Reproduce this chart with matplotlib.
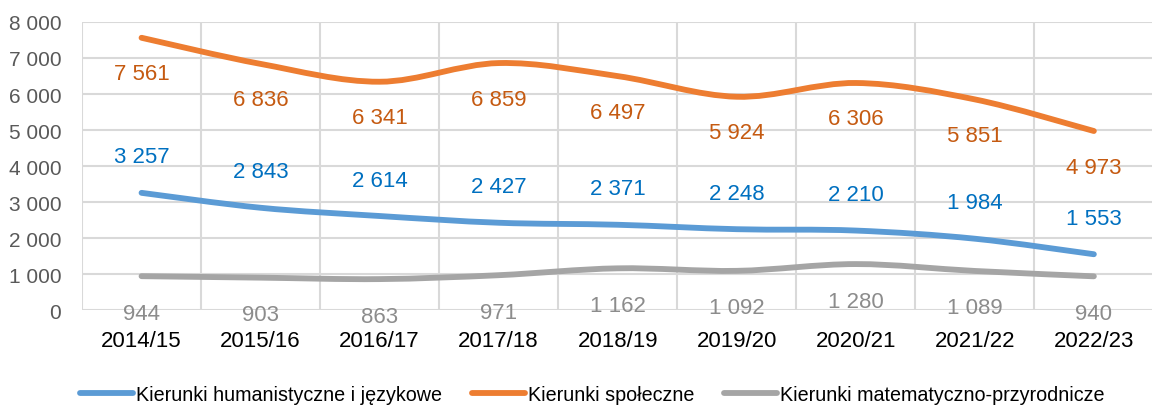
import numpy as np
import matplotlib
matplotlib.use('Agg')
import matplotlib.pyplot as plt
from matplotlib.path import Path
from matplotlib.patches import PathPatch
from matplotlib.lines import Line2D

plt.rcParams['font.family'] = ['Liberation Sans', 'DejaVu Sans']

years = ['2014/15', '2015/16', '2016/17', '2017/18', '2018/19',
         '2019/20', '2020/21', '2021/22', '2022/23']
humanist = [3257, 2843, 2614, 2427, 2371, 2248, 2210, 1984, 1553]
social = [7561, 6836, 6341, 6859, 6497, 5924, 6306, 5851, 4973]
science = [944, 903, 863, 971, 1162, 1092, 1280, 1089, 940]

series_names = ['Kierunki humanistyczne i językowe', 'Kierunki społeczne',
                'Kierunki matematyczno-przyrodnicze']
line_colors = ['#5B9BD5', '#ED7D31', '#A5A5A5']
label_colors = ['#0070C0', '#C55A11', '#8C8C8C']
label_offsets = [36, -36, -37]  # pixels, above / below the point


def fmt(v):
    return f"{v:,}".replace(',', ' ')


def smooth_path(x, y, t=1/6):
    # Excel-like smoothed line: Bezier segments through the data points
    verts = [(x[0], y[0])]
    codes = [Path.MOVETO]
    n = len(x)
    for i in range(n - 1):
        x0, y0 = (x[i - 1], y[i - 1]) if i > 0 else (x[i], y[i])
        x3, y3 = (x[i + 2], y[i + 2]) if i + 2 < n else (x[i + 1], y[i + 1])
        c1 = (x[i] + (x[i + 1] - x0) * t, y[i] + (y[i + 1] - y0) * t)
        c2 = (x[i + 1] - (x3 - x[i]) * t, y[i + 1] - (y3 - y[i]) * t)
        verts += [c1, c2, (x[i + 1], y[i + 1])]
        codes += [Path.CURVE4] * 3
    return Path(verts, codes)


fig = plt.figure(figsize=(11.52, 4.10), dpi=100)
ax = fig.add_axes([0.0712, 0.241, 0.93, 0.703])

xs = np.arange(len(years))
for vals, lc, tc, off in zip([humanist, social, science], line_colors, label_colors, label_offsets):
    patch = PathPatch(smooth_path(xs, vals), facecolor='none', edgecolor=lc,
                      lw=4.2, capstyle='round', joinstyle='round', zorder=3)
    ax.add_patch(patch)
    for xi, v in zip(xs, vals):
        ax.annotate(fmt(v), (xi, v), xytext=(0, off), textcoords='offset pixels',
                    ha='center', va='center', fontsize=16, color=tc, zorder=4)

ax.set_xlim(-0.5, len(years) - 0.5)
ax.set_ylim(0, 8000)
ax.set_yticks(range(0, 8001, 1000))
ax.set_yticklabels([fmt(v) for v in range(0, 8001, 1000)])
ax.set_xticks(xs)
ax.set_xticklabels(years)
ax.set_xticks(np.arange(-0.5, len(years), 1), minor=True)
ax.tick_params(axis='both', which='both', length=0)
ax.tick_params(axis='y', labelsize=15, labelcolor='#595959', pad=15)
ax.tick_params(axis='x', labelsize=16, labelcolor='black', pad=14)
ax.grid(axis='y', which='major', color='#D9D9D9', lw=1.5)
ax.grid(axis='x', which='minor', color='#D9D9D9', lw=1.5)
ax.grid(axis='x', which='major', visible=False)
for s in ax.spines.values():
    s.set_visible(False)
ax.set_axisbelow(True)

handles = [Line2D([], [], color=c, lw=4.2, solid_capstyle='round') for c in line_colors]
fig.legend(handles, series_names, loc='lower center', bbox_to_anchor=(0.514, -0.032),
           ncol=3, frameon=False, fontsize=14.2, handlelength=2.7, handletextpad=0.15,
           columnspacing=1.5)

fig.savefig('out.png', dpi=100)
